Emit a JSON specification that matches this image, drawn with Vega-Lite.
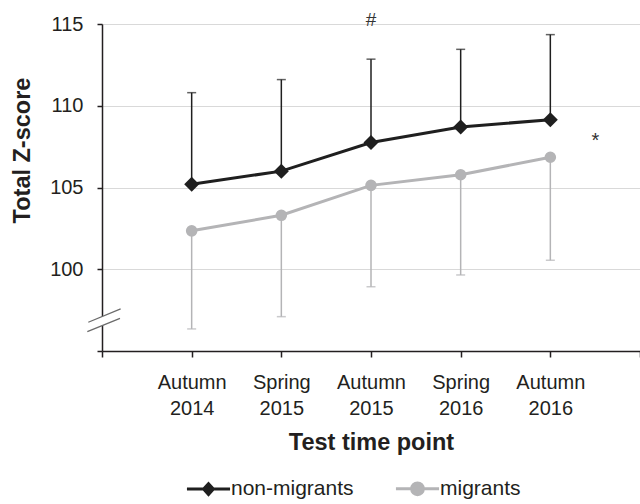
{
  "$schema": "https://vega.github.io/schema/vega-lite/v6.json",
  "width": 538,
  "height": 327,
  "autosize": "none",
  "padding": {"left": 102, "top": 24, "right": 0, "bottom": 153},
  "background": "white",
  "config": {
    "font": "Liberation Sans",
    "view": {"stroke": null}
  },
  "datasets": {
    "scores": [
      {"group": "non-migrants", "time": "Autumn 2014", "mean": 105.2, "bar_end": 110.8},
      {"group": "non-migrants", "time": "Spring 2015", "mean": 106.0, "bar_end": 111.6},
      {"group": "non-migrants", "time": "Autumn 2015", "mean": 107.75, "bar_end": 112.85},
      {"group": "non-migrants", "time": "Spring 2016", "mean": 108.7, "bar_end": 113.45},
      {"group": "non-migrants", "time": "Autumn 2016", "mean": 109.15, "bar_end": 114.35},
      {"group": "migrants", "time": "Autumn 2014", "mean": 102.35, "bar_end": 96.35},
      {"group": "migrants", "time": "Spring 2015", "mean": 103.3, "bar_end": 97.1},
      {"group": "migrants", "time": "Autumn 2015", "mean": 105.13, "bar_end": 98.93},
      {"group": "migrants", "time": "Spring 2016", "mean": 105.78, "bar_end": 99.65},
      {"group": "migrants", "time": "Autumn 2016", "mean": 106.85, "bar_end": 100.55}
    ],
    "axis_break": [
      {"time": " ", "level": 96.87}
    ]
  },
  "data": {"name": "scores"},
  "encoding": {
    "x": {
      "field": "time",
      "type": "ordinal",
      "scale": {
        "type": "point",
        "padding": 0,
        "domain": [" ", "Autumn 2014", "Spring 2015", "Autumn 2015", "Spring 2016", "Autumn 2016", "  "]
      },
      "axis": {
        "title": "Test time point",
        "titleFontSize": 23.5,
        "titleFontWeight": "bold",
        "titleColor": "#231f20",
        "titleY": 98,
        "titleBaseline": "alphabetic",
        "labelExpr": "split(datum.label, ' ')",
        "labelFontSize": 20,
        "labelLineHeight": 26,
        "labelPadding": 15,
        "labelBaseline": "top",
        "labelAngle": 0,
        "labelColor": "#231f20",
        "tickSize": 6,
        "tickColor": "#231f20",
        "tickWidth": 1.5,
        "domainColor": "#231f20",
        "domainWidth": 1.5,
        "grid": false
      }
    },
    "y": {
      "field": "mean",
      "type": "quantitative",
      "scale": {"domain": [95, 115], "nice": false, "zero": false},
      "axis": {
        "title": "Total Z-score",
        "values": [95, 100, 105, 110, 115],
        "labelExpr": "datum.value === 95 ? '' : datum.label",
        "titleFontSize": 23.5,
        "titleFontWeight": "bold",
        "titleColor": "#231f20",
        "titleX": -80,
        "titleY": 126,
        "titleAngle": -90,
        "titleAlign": "center",
        "titleBaseline": "middle",
        "labelFontSize": 20,
        "labelColor": "#231f20",
        "labelPadding": 14,
        "tickSize": 5,
        "tickColor": "#231f20",
        "tickWidth": 1.5,
        "domainColor": "#231f20",
        "domainWidth": 1.5,
        "grid": true,
        "gridColor": "#d9d9d9",
        "gridWidth": 1.2
      }
    }
  },
  "layer": [
    {
      "mark": {"type": "rule", "strokeWidth": 1.5},
      "encoding": {
        "y2": {"field": "bar_end"},
        "color": {"field": "group", "type": "nominal", "scale": {"domain": ["non-migrants", "migrants"], "range": ["#1f1f1f", "#b4b4b6"]}}
      }
    },
    {
      "mark": {"type": "tick", "thickness": 1.5, "size": 9},
      "encoding": {
        "y": {"field": "bar_end", "type": "quantitative"},
        "color": {"field": "group", "type": "nominal"}
      }
    },
    {
      "mark": {"type": "line", "strokeWidth": 3},
      "encoding": {
        "color": {
          "field": "group",
          "type": "nominal",
          "legend": {
            "title": null,
            "orient": "none",
            "legendX": 95,
            "legendY": 453,
            "direction": "horizontal",
            "padding": 0,
            "labelFontSize": 21,
            "labelColor": "#231f20",
            "symbolSize": 384,
            "labelOffset": 11,
            "columnPadding": 35,
            "encode": {
              "symbols": {
                "update": {
                  "shape": {"signal": "datum.value === 'non-migrants' ? 'M-2.2,0L2.2,0M0,-0.55L0.5,0L0,0.55L-0.5,0Z' : 'M-2.2,0L2.2,0M0.6,0A0.6,0.6,0,1,1,-0.6,0A0.6,0.6,0,1,1,0.6,0Z'"},
                  "fill": {"signal": "scale('color', datum.value)"},
                  "stroke": {"signal": "scale('color', datum.value)"},
                  "strokeWidth": {"value": 3},
                  "opacity": {"value": 1}
                }
              }
            }
          }
        }
      }
    },
    {
      "transform": [{"filter": "datum.group === 'non-migrants'"}],
      "mark": {"type": "point", "filled": true, "opacity": 1, "shape": "diamond", "size": 225, "color": "#1f1f1f"}
    },
    {
      "transform": [{"filter": "datum.group === 'migrants'"}],
      "mark": {"type": "point", "filled": true, "opacity": 1, "shape": "circle", "size": 135, "color": "#b4b4b6"}
    },
    {
      "data": {"name": "axis_break"},
      "mark": {
        "type": "point",
        "shape": "M-0.83,0.11L1.13,-0.70L1.09,-0.13L-0.89,0.68Z",
        "size": 1089,
        "filled": true,
        "fill": "white",
        "strokeWidth": 0,
        "opacity": 1
      },
      "encoding": {
        "y": {"field": "level", "type": "quantitative"}
      }
    },
    {
      "data": {"name": "axis_break"},
      "mark": {
        "type": "point",
        "shape": "M-0.83,0.11L1.13,-0.70M-0.89,0.68L1.09,-0.13",
        "size": 1089,
        "filled": false,
        "stroke": "#6b6b6b",
        "strokeWidth": 1.3,
        "opacity": 1
      },
      "encoding": {
        "y": {"field": "level", "type": "quantitative"}
      }
    },
    {
      "data": {"values": [{"note": "#", "time": "Autumn 2015", "pos": 114.86}]},
      "mark": {"type": "text", "fontSize": 19, "color": "#333333", "baseline": "alphabetic"},
      "encoding": {
        "y": {"field": "pos", "type": "quantitative"},
        "text": {"field": "note"}
      }
    },
    {
      "data": {"values": [{"note": "*", "time": "Autumn 2016", "pos": 107.5}]},
      "mark": {"type": "text", "fontSize": 20, "color": "#333333", "baseline": "alphabetic", "dx": 45},
      "encoding": {
        "y": {"field": "pos", "type": "quantitative"},
        "text": {"field": "note"}
      }
    }
  ]
}
